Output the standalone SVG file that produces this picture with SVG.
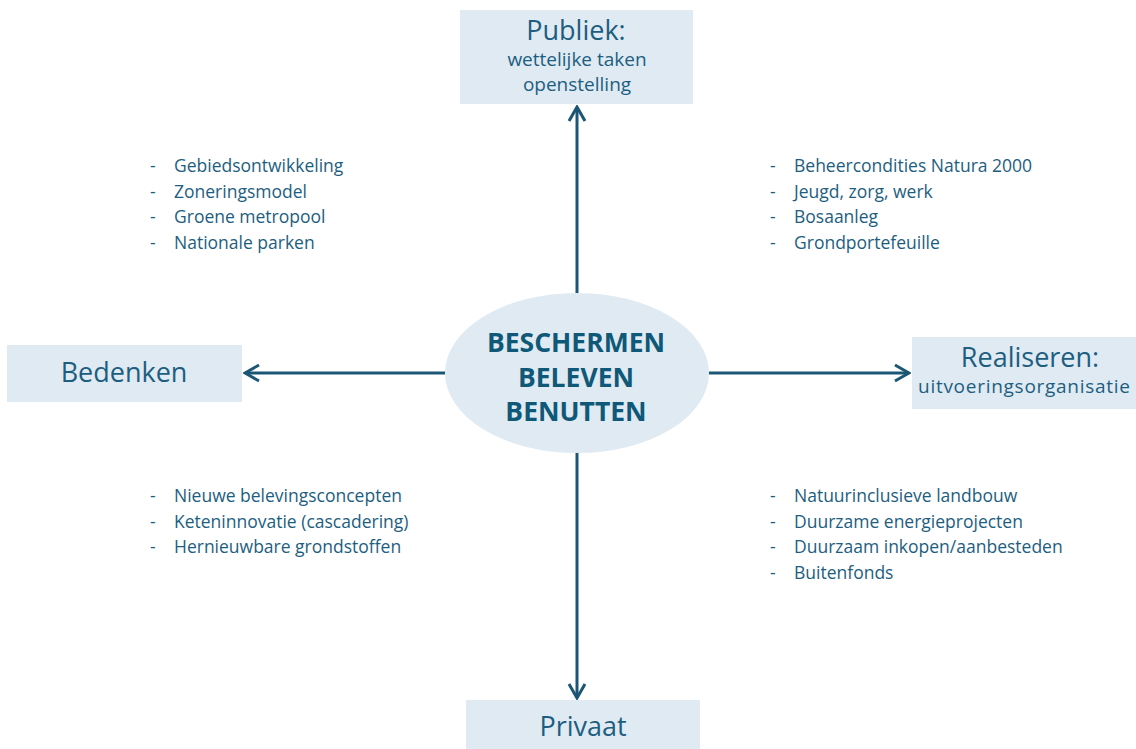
<svg xmlns="http://www.w3.org/2000/svg" width="1136" height="749" viewBox="0 0 1136 749">
<defs>
<style>
.box{fill:#dfeaf3}
.t{font-family:"Open Sans","Noto Sans",sans-serif;fill:#1d5e80}
.big{font-size:27px}
.sub{font-size:19px}
.li{font-size:17.5px}
.core{font-family:"Open Sans","Noto Sans",sans-serif;font-weight:bold;font-size:26.5px;fill:#0f5878}
.ln{stroke:#1b5774;stroke-width:3;fill:none}
</style>
<marker id="ah" viewBox="0 0 20 20" refX="18" refY="10" markerWidth="20" markerHeight="20" markerUnits="userSpaceOnUse" orient="auto">
<path d="M4,2 L18,10 L4,18" fill="none" stroke="#1b5774" stroke-width="3"/>
</marker>
</defs>
<rect width="1136" height="749" fill="#ffffff"/>
<g id="connectors">
<line class="ln" x1="577" y1="293" x2="577" y2="107" marker-end="url(#ah)"/>
<line class="ln" x1="577" y1="453" x2="577" y2="698" marker-end="url(#ah)"/>
<line class="ln" x1="445" y1="373" x2="245" y2="373" marker-end="url(#ah)"/>
<line class="ln" x1="709" y1="373" x2="909" y2="373" marker-end="url(#ah)"/>
</g>
<g id="center">
<ellipse cx="577" cy="373" rx="132" ry="80" class="box"/>
<text class="core" text-anchor="middle" x="576" y="352">BESCHERMEN</text>
<text class="core" text-anchor="middle" x="576" y="387">BELEVEN</text>
<text class="core" text-anchor="middle" x="576" y="421">BENUTTEN</text>
</g>
<g id="publiek">
<rect class="box" x="460" y="10" width="233" height="94"/>
<text class="t big" text-anchor="middle" x="576" y="40">Publiek:</text>
<text class="t sub" text-anchor="middle" x="577" y="66">wettelijke taken</text>
<text class="t sub" text-anchor="middle" x="577" y="91">openstelling</text>
</g>
<g id="bedenken">
<rect class="box" x="7" y="345" width="235" height="57"/>
<text class="t big" text-anchor="middle" x="124" y="382">Bedenken</text>
</g>
<g id="realiseren">
<rect class="box" x="912" y="337" width="224" height="72"/>
<text class="t big" text-anchor="middle" x="1030" y="367">Realiseren:</text>
<text class="t sub" x="918" y="393" textLength="212" lengthAdjust="spacing">uitvoeringsorganisatie</text>
</g>
<g id="privaat">
<rect class="box" x="466" y="700" width="234" height="49"/>
<text class="t big" text-anchor="middle" x="583" y="736">Privaat</text>
</g>
<g id="list-top-left" class="t li">
<text x="150" y="172">-</text><text x="174" y="172">Gebiedsontwikkeling</text>
<text x="150" y="198">-</text><text x="174" y="198">Zoneringsmodel</text>
<text x="150" y="223">-</text><text x="174" y="223">Groene metropool</text>
<text x="150" y="249">-</text><text x="174" y="249">Nationale parken</text>
</g>
<g id="list-top-right" class="t li">
<text x="770" y="172">-</text><text x="794" y="172">Beheercondities Natura 2000</text>
<text x="770" y="198">-</text><text x="794" y="198">Jeugd, zorg, werk</text>
<text x="770" y="223">-</text><text x="794" y="223">Bosaanleg</text>
<text x="770" y="249">-</text><text x="794" y="249">Grondportefeuille</text>
</g>
<g id="list-bottom-left" class="t li">
<text x="150" y="502">-</text><text x="174" y="502">Nieuwe belevingsconcepten</text>
<text x="150" y="528">-</text><text x="174" y="528">Keteninnovatie (cascadering)</text>
<text x="150" y="553">-</text><text x="174" y="553">Hernieuwbare grondstoffen</text>
</g>
<g id="list-bottom-right" class="t li">
<text x="770" y="502">-</text><text x="794" y="502">Natuurinclusieve landbouw</text>
<text x="770" y="528">-</text><text x="794" y="528">Duurzame energieprojecten</text>
<text x="770" y="553">-</text><text x="794" y="553">Duurzaam inkopen/aanbesteden</text>
<text x="770" y="579">-</text><text x="794" y="579">Buitenfonds</text>
</g>
</svg>
